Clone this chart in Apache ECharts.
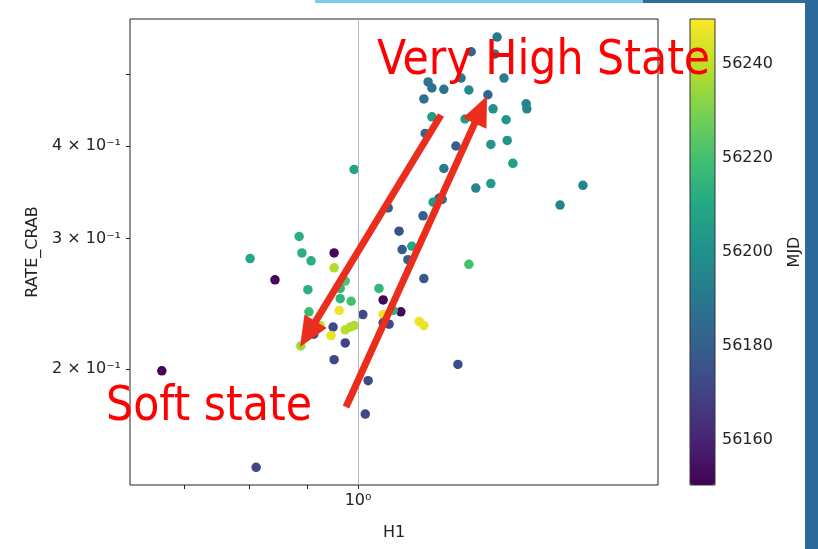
<!DOCTYPE html>
<html><head><meta charset="utf-8">
<script src="https://cdn.jsdelivr.net/npm/echarts@6/dist/echarts.min.js"></script>
<style>html,body{margin:0;padding:0;background:#fff}#c{width:818px;height:549px}</style>
</head><body><div id="c"></div>
<script>
// ---- data ----
const h1 = [1.331,1.262,1.325,1.236,1.350,1.155,1.164,1.193,1.256,1.145,1.306,1.413,1.415,1.320,1.164,1.246,1.356,1.148,1.223,1.359,1.314,1.193,1.375,1.274,1.314,1.588,1.515,1.181,1.189,1.167,0.992,1.064,1.143,1.088,1.095,1.117,1.108,1.256,1.145,1.044,1.053,1.010,1.092,1.075,1.053,1.053,1.066,1.134,1.145,1.228,1.021,1.015,0.886,0.801,0.891,0.908,0.952,0.952,0.843,0.974,0.964,0.902,0.964,0.986,0.962,0.904,0.925,0.950,0.974,0.984,0.992,0.946,0.974,0.889,0.952,0.913,0.668,0.811];
const rateCrab = [0.561,0.536,0.532,0.494,0.494,0.488,0.479,0.477,0.476,0.463,0.469,0.456,0.449,0.449,0.438,0.435,0.434,0.416,0.400,0.407,0.402,0.373,0.379,0.351,0.356,0.354,0.333,0.340,0.339,0.336,0.372,0.330,0.322,0.307,0.290,0.293,0.281,0.277,0.265,0.257,0.248,0.237,0.239,0.240,0.237,0.231,0.230,0.232,0.229,0.203,0.193,0.174,0.302,0.282,0.287,0.280,0.287,0.274,0.264,0.263,0.257,0.256,0.249,0.247,0.240,0.239,0.229,0.228,0.226,0.228,0.229,0.222,0.217,0.215,0.206,0.223,0.199,0.1475];
const mjd = [56190,56183,56190,56190,56192,56188,56188,56188,56198,56187,56182,56195,56195,56200,56205,56205,56202,56183,56180,56203,56203,56190,56207,56195,56205,56195,56195,56183,56185,56205,56208,56180,56180,56175,56178,56210,56180,56220,56177,56215,56152,56172,56153,56215,56247,56172,56172,56247,56247,56173,56172,56172,56213,56210,56213,56213,56152,56238,56152,56222,56216,56213,56215,56220,56247,56218,56238,56172,56240,56238,56238,56246,56170,56236,56172,56172,56151,56171];

const xTickValues = [0.7, 0.8, 0.9, 1];
const xLabelValues = [1];
const xTickLabels = ['10⁰'];
const yTickValues = [0.2, 0.3, 0.4, 0.5];
const yLabelValues = [0.2, 0.3, 0.4];
const yTickLabels = ['2 × 10⁻¹', '3 × 10⁻¹', '4 × 10⁻¹'];
const cbTickValues = [56160, 56180, 56200, 56220, 56240];
const cbTickLabels = ['56160', '56180', '56200', '56220', '56240'];
const viridis = ['#440154','#482576','#414487','#35608d','#2a788e','#21908c','#22a884','#43bf71','#7ad151','#bbdf27','#fde725'];

const points = h1.map((v, i) => [v, rateCrab[i], mjd[i]]);
function pick(vals, labels, v) {
  let best = 0;
  for (let i = 1; i < vals.length; i++) if (Math.abs(vals[i] - v) < Math.abs(vals[best] - v)) best = i;
  return labels[best];
}

const FONT = 'DejaVu Sans';
const TXT = '#222';
const RED = '#eb2d1e';
const ANN_FONT = '47.5px "DejaVu Sans Condensed", "Liberation Sans", sans-serif';

function arrow(x0, y0, x1, y1) {
  const dx = x1 - x0, dy = y1 - y0, L = Math.hypot(dx, dy);
  const ux = dx / L, uy = dy / L, px = -uy, py = ux;
  const hl = 30, hw = 13;
  const bx = x1 - ux * hl, by = y1 - uy * hl;
  return [
    { type: 'line', z: 50, shape: { x1: x0, y1: y0, x2: bx + ux * 3, y2: by + uy * 3 }, style: { stroke: RED, lineWidth: 7 } },
    { type: 'polygon', z: 50, shape: { points: [[x1, y1], [bx + px * hw, by + py * hw], [bx - px * hw, by - py * hw]] }, style: { fill: RED } }
  ];
}

const chart = echarts.init(document.getElementById('c'), null, { renderer: 'canvas' });
chart.setOption({
  animation: false,
  backgroundColor: '#fff',
  textStyle: { fontFamily: FONT },
  grid: [
    { left: 130, top: 19, width: 528, height: 466, show: true, borderColor: '#222', borderWidth: 1, backgroundColor: 'rgba(0,0,0,0)', containLabel: false, outerBoundsMode: 'none' },
    { left: 690, top: 19, width: 25, height: 466, show: true, borderColor: '#333', borderWidth: 1, backgroundColor: 'rgba(0,0,0,0)', z: 10, containLabel: false, outerBoundsMode: 'none' }
  ],
  xAxis: [
    { type: 'log', logBase: 10, gridIndex: 0, min: 0.6257, max: 1.853,
      name: 'H1', nameLocation: 'middle', nameGap: 40, nameTextStyle: { color: TXT, fontSize: 16, fontFamily: FONT },
      axisLine: { show: false },
      axisTick: { show: true, customValues: xTickValues, length: 4, lineStyle: { color: '#222' } },
      axisLabel: { customValues: xLabelValues, color: TXT, fontSize: 16, fontFamily: FONT, margin: 8,
        formatter: v => pick(xLabelValues, xTickLabels, v) },
      splitLine: { show: false }, minorTick: { show: false } },
    { type: 'value', gridIndex: 1, min: 0, max: 1, show: false }
  ],
  yAxis: [
    { type: 'log', logBase: 10, gridIndex: 0, min: 0.1396, max: 0.5934,
      name: 'RATE_CRAB', nameLocation: 'middle', nameGap: 85, nameRotate: 90,
      nameTextStyle: { color: TXT, fontSize: 16, fontFamily: FONT },
      axisLine: { show: false },
      axisTick: { show: true, customValues: yTickValues, length: 4, lineStyle: { color: '#222' } },
      axisLabel: { customValues: yLabelValues, color: TXT, fontSize: 16, fontFamily: FONT, margin: 9,
        formatter: v => pick(yLabelValues, yTickLabels, v) },
      splitLine: { show: false }, minorTick: { show: false } },
    { type: 'value', gridIndex: 1, min: 56150.5, max: 56249.5, position: 'right',
      name: 'MJD', nameLocation: 'middle', nameGap: 72, nameRotate: 90,
      nameTextStyle: { color: TXT, fontSize: 16, fontFamily: FONT },
      axisLine: { show: false },
      axisTick: { show: true, customValues: cbTickValues, length: 4, lineStyle: { color: '#222' } },
      axisLabel: { customValues: cbTickValues, color: TXT, fontSize: 16, fontFamily: FONT, margin: 7,
        formatter: v => pick(cbTickValues, cbTickLabels, v) },
      splitLine: { show: false } }
  ],
  visualMap: {
    type: 'continuous', min: 56150.5, max: 56249.5, dimension: 2, seriesIndex: 0,
    inRange: { color: viridis }, calculable: false, hoverLink: false,
    left: 690, top: 19, itemWidth: 25, itemHeight: 466, padding: 0, text: null, show: true
  },
  series: [{
    type: 'scatter', xAxisIndex: 0, yAxisIndex: 0, data: points, symbolSize: 9.5,
    itemStyle: { opacity: 1 },
    markLine: { silent: true, symbol: 'none', label: { show: false }, animation: false,
      lineStyle: { color: '#b8b8b8', width: 1, type: 'solid' }, data: [{ xAxis: 1 }] }
  }],
  graphic: [
    { type: 'rect', shape: { x: 315, y: 0, width: 330, height: 3 }, style: { fill: '#7ccbea' } },
    { type: 'rect', shape: { x: 643, y: 0, width: 175, height: 3 }, style: { fill: '#2e6c9c' } },
    { type: 'rect', shape: { x: 805, y: 0, width: 13, height: 549 }, style: { fill: '#2b6b9b' } },
    ...arrow(441, 115, 300, 347),
    ...arrow(346, 407, 487, 96),
    { type: 'text', z: 60, x: 377, y: 62, style: { text: 'Very High State', fill: '#ff0000', font: ANN_FONT, verticalAlign: 'middle', align: 'left' } },
    { type: 'text', z: 60, x: 106, y: 408, style: { text: 'Soft state', fill: '#ff0000', font: ANN_FONT, verticalAlign: 'middle', align: 'left' } }
  ]
});
</script></body></html>
